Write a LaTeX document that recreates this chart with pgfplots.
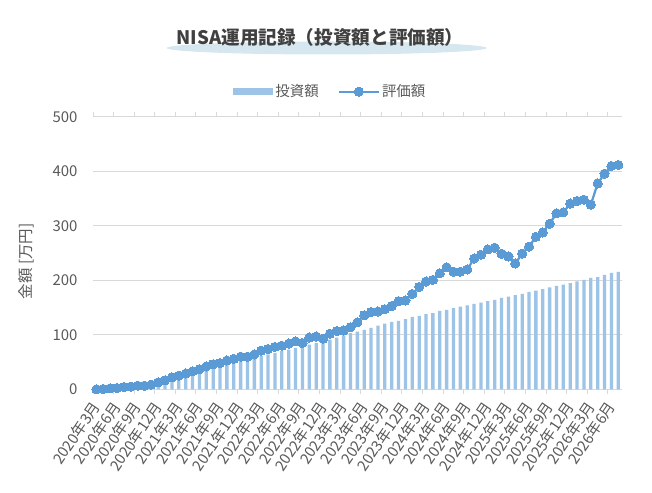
\documentclass[border=0pt]{standalone}
\usepackage{fontspec}
\setmainfont{Noto Sans CJK JP}
\usepackage{pgfplots}
\usepackage{pgfplotstable}
\pgfplotsset{compat=1.18}
\definecolor{barc}{HTML}{9DC3E6}
\definecolor{linec}{HTML}{5B9BD5}
\definecolor{gridc}{HTML}{D9D9D9}
\definecolor{txt}{HTML}{595959}
\definecolor{ttl}{HTML}{404040}
\definecolor{ell}{HTML}{D6E7F0}
\pgfplotsset{
  barlegend/.style={legend image code/.code={\fill[barc] (0bp,-3.7bp) rectangle (40bp,3.7bp);}},
  linelegend/.style={legend image code/.code={\draw[mark repeat=2, mark phase=2, ##1] plot coordinates {(0bp,0bp) (20bp,0bp) (40bp,0bp)};}},
}

\pgfplotstableread{
i inv val
0 0 0
1 0.5 0.6
2 1.5 1.8
3 2.5 2.5
4 3.5 4.3
5 4.5 4.9
6 5.5 6.7
7 6.5 6.7
8 7.5 8.6
9 8 12.9
10 11 16.6
11 15 22
12 19 25
13 23 29
14 27 33
15 31 37
16 35 42
17 39 46
18 43 48
19 46 53
20 49 56
21 52 60
22 55 60
23 58 64
24 61 71
25 64 74
26 67 78
27 70 80
28 73 84
29 76 88
30 79 85
31 82 95
32 85 97
33 88 93
34 91 102
35 95 107
36 99 108
37 103 114
38 106 123
39 109 136
40 113 142
41 117 143
42 120.6 147
43 123.7 153
44 125.5 162
45 129 163
46 133 175
47 135 188
48 138 198
49 140 201
50 144 213
51 146 224
52 149 216
53 152 216
54 154 220
55 157 240
56 159 247
57 162 257
58 164 260
59 168 249
60 170 244
61 173 231
62 175 249
63 179 262
64 181 280
65 184 288
66 187 304
67 190 323
68 192 325
69 195 341
70 198 346
71 201 348
72 204.5 339
73 206 378
74 210 396
75 214 410
76 215.5 412
}\data

\begin{document}
\begin{tikzpicture}[x=1bp,y=1bp]
\useasboundingbox (0,0) rectangle (652,493);
\fill[ell] (326.7,445) ellipse (160 and 6.5);
\node[font=\bfseries\fontsize{18.7}{20}\selectfont, text=ttl] at (320,456) {NISA運用記録（投資額と評価額）};
\node[rotate=90, font=\fontsize{15.5}{16}\selectfont, text=txt] at (26.7,231.5) {金額 [万円]};
\begin{axis}[
  at={(93bp,103.7bp)}, anchor=south west,
  scale only axis, width=528.7bp, height=272.3bp,
  xmin=-0.5, xmax=76.5, ymin=0, ymax=500,
  clip=false,
  axis line style={draw=none},
  ytick={0,100,...,500},
  ymajorgrids, grid style={gridc, line width=1bp},
  major tick length=0pt,
  xtick={0,3,...,75},
  xticklabels={2020年3月,2020年6月,2020年9月,2020年12月,2021年3月,2021年6月,2021年9月,2021年12月,2022年3月,2022年6月,2022年9月,2022年12月,2023年3月,2023年6月,2023年9月,2023年12月,2024年3月,2024年6月,2024年9月,2024年12月,2025年3月,2025年6月,2025年9月,2025年12月,2026年3月,2026年6月},
  extra x ticks={-0.5,2.5,...,74.5},
  extra x tick labels={},
  extra x tick style={major tick length=5bp, tick align=outside, grid=none, tick style={gridc, line width=1bp}},
  tick label style={font=\fontsize{15}{15}\selectfont, text=txt},
  /pgf/number format/assume math mode=true,
  yticklabel style={anchor=east, inner sep=0pt},
  yticklabel shift=15.3bp,
  xticklabel style={rotate=56, anchor=east, inner sep=0pt},
  xticklabel shift=14bp,
  legend style={at={(0.449,1.093)}, anchor=center, draw=none, fill=none,
    legend columns=2, font=\fontsize{14.5}{14.5}\selectfont, text=txt,
    /tikz/every even column/.append style={column sep=17bp}},
  legend cell align=left,
]
\addplot[ybar, bar width=3.3bp, bar shift=0pt, fill=barc, draw=none, barlegend]
  table[x=i, y=inv]{\data};
\addlegendentry{投資額}
\addplot[linec, line width=2.25bp, mark=*, mark size=4.6bp,
  mark options={fill=linec, draw=linec, line width=0pt}, linelegend]
  table[x=i, y=val]{\data};
\addlegendentry{評価額}
\end{axis}
\end{tikzpicture}
\end{document}
